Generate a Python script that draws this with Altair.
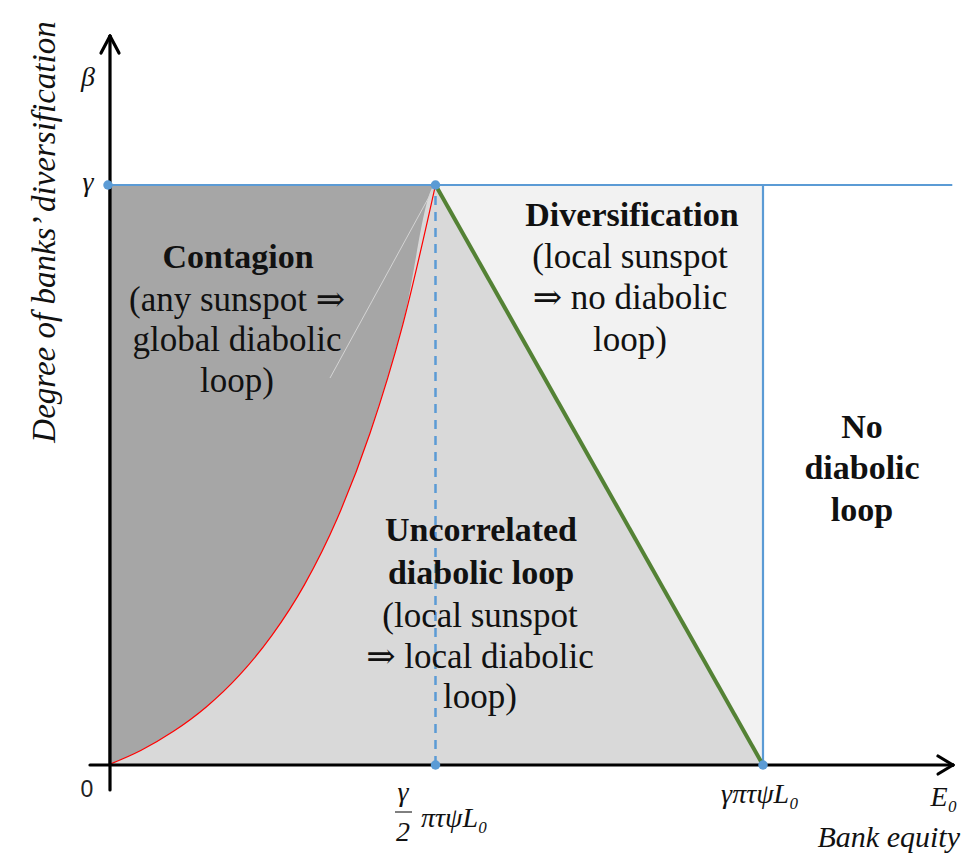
import altair as alt
import pandas as pd

# ---- data (x in units of gamma*pi*tau*psi*L0, y in units of gamma) ----
curve_x = [0, 0.05, 0.1, 0.15, 0.2, 0.25, 0.3, 0.35, 0.4, 0.45, 0.5]
curve_y = [0, 0.025, 0.058, 0.100, 0.154, 0.223, 0.311, 0.425, 0.572, 0.759, 1.0]
green_x = [0.5, 1.0]
green_y = [1.0, 0.0]
dots_x = [0, 0.5, 0.5, 1.0]
dots_y = [1.0, 1.0, 0.0, 0.0]
gamma_level = 1.0
top_line_end = 1.289

# pixel helpers for annotation placement
X0, XS = 108.0, 655.0
Y0, YS = 765.0, 580.0
def px(p):
    return (p - X0) / XS
def py(p):
    return (Y0 - p) / YS

W, H = 959, 846
xs = alt.Scale(domain=[px(8), px(8 + W)], nice=False, zero=False)
ys = alt.Scale(domain=[py(8 + H), py(8)], nice=False, zero=False)

def X(field="x"):
    return alt.X(field, type="quantitative", scale=xs, axis=None)
def Y(field="y"):
    return alt.Y(field, type="quantitative", scale=ys, axis=None)

BLUE = "#5b9bd5"

# areas
dark = pd.DataFrame({"x": curve_x, "y": curve_y, "y2": [gamma_level] * len(curve_x)})
light = pd.DataFrame({"x": curve_x + [green_x[1]], "y": [0.0] * (len(curve_x) + 1),
                      "y2": curve_y + [green_y[1]]})
vlight = pd.DataFrame({"x": green_x, "y": green_y, "y2": [gamma_level, gamma_level]})

a_dark = alt.Chart(dark).mark_area(color="#a6a6a6", opacity=1, interpolate="monotone").encode(
    x=X(), y=Y(), y2="y2")
a_light = alt.Chart(light).mark_area(color="#d9d9d9", opacity=1, interpolate="monotone").encode(
    x=X(), y=Y(), y2="y2")
a_vlight = alt.Chart(vlight).mark_area(color="#f2f2f2", opacity=1).encode(x=X(), y=Y(), y2="y2")

faint = alt.Chart(pd.DataFrame({"x": [0.5, px(330)], "y": [1.0, py(378)]})).mark_line(
    color="#d4d4d4", strokeWidth=1).encode(x=X(), y=Y())

red = alt.Chart(pd.DataFrame({"x": curve_x, "y": curve_y})).mark_line(
    color="#ff0000", strokeWidth=1.2, interpolate="monotone").encode(x=X(), y=Y())

segs = pd.DataFrame({
    "x": [0.0, 1.0],
    "y": [gamma_level, 0.0],
    "x2": [top_line_end, 1.0],
    "y2": [gamma_level, gamma_level],
})
blue_lines = alt.Chart(segs).mark_rule(color=BLUE, strokeWidth=2.2).encode(
    x=X(), y=Y(), x2="x2", y2="y2")

dashed = alt.Chart(pd.DataFrame({"x": [0.5], "y": [0.0], "y2": [gamma_level]})).mark_rule(
    color=BLUE, strokeWidth=2.5, strokeDash=[9, 7]).encode(x=X(), y=Y(), y2="y2")

green = alt.Chart(pd.DataFrame({"x": green_x, "y": green_y})).mark_line(
    color="#548235", strokeWidth=4).encode(x=X(), y=Y())

# axes with open arrowheads
axes = pd.DataFrame({
    "x": [px(110), px(90), px(110), px(110), px(953), px(953)],
    "y": [py(790), 0.0, py(36), py(36), 0.0, 0.0],
    "x2": [px(110), px(953), px(101), px(119), px(938), px(938)],
    "y2": [py(36), 0.0, py(53), py(53), py(756), py(774)],
})
ax = alt.Chart(axes).mark_rule(color="black", strokeWidth=3.2, strokeCap="round").encode(
    x=X(), y=Y(), x2="x2", y2="y2")

dots = alt.Chart(pd.DataFrame({"x": dots_x, "y": dots_y})).mark_circle(
    color=BLUE, size=90, opacity=1).encode(x=X(), y=Y())

frac = alt.Chart(pd.DataFrame({"x": [px(395)], "x2": [px(412)], "y": [py(812)]})).mark_rule(
    color="black", strokeWidth=1).encode(x=X(), x2="x2", y=Y())

SERIF = "'Liberation Serif', 'Times New Roman', 'DejaVu Serif', serif"

def texts(rows, **kw):
    df = pd.DataFrame(rows, columns=["x", "y", "t"])
    df["x"] = df["x"].map(px)
    df["y"] = df["y"].map(py)
    return alt.Chart(df).mark_text(**kw).encode(x=X(), y=Y(), text="t")

bold_labels = texts([
    (238, 258, "Contagion"),
    (632, 216, "Diversification"),
    (481, 531, "Uncorrelated"),
    (481, 574, "diabolic loop"),
    (862, 428, "No"),
    (862, 469, "diabolic"),
    (862, 511, "loop"),
], font=SERIF, fontSize=34, fontWeight="bold", baseline="middle", align="center", color="#111111")

norm_labels = texts([
    (237, 300, "(any sunspot ⇒"),
    (237, 340, "global diabolic"),
    (237, 381, "loop)"),
    (630, 257, "(local sunspot"),
    (630, 298, "⇒ no diabolic"),
    (630, 340, "loop)"),
    (480, 616, "(local sunspot"),
    (480, 657, "⇒ local diabolic"),
    (480, 697, "loop)"),
], font=SERIF, fontSize=35, baseline="middle", align="center", color="#111111")

math_labels = texts([
    (88, 78, "β"),
    (88, 183, "γ"),
    (403, 793, "γ"),
    (403, 833, "2"),
    (760, 795, "γπτψL₀"),
    (944, 798, "E₀"),
], font=SERIF, fontSize=28, fontStyle="italic", baseline="middle", align="center", color="#111111")

math_left = texts([
    (421, 819, "πτψL₀"),
], font=SERIF, fontSize=28, fontStyle="italic", baseline="middle", align="left", color="#111111")

zero = texts([(87, 790, "0")], font="Liberation Sans", fontSize=23, baseline="middle",
             align="center", color="#222222")

bank = texts([(960, 838, "Bank equity")], font=SERIF, fontSize=30, fontStyle="italic",
             baseline="middle", align="right", color="#111111")

ytitle = texts([(45, 232, "Degree of banks’ diversification")], font=SERIF, fontSize=33,
               fontStyle="italic", baseline="middle", align="center", angle=270, color="#111111")

chart = alt.layer(
    a_dark, a_light, a_vlight, faint, red, blue_lines, dashed, green, ax, dots, frac,
    bold_labels, norm_labels, math_labels, math_left, zero, bank, ytitle,
).properties(width=W, height=H, padding=0, autosize="none").configure_view(stroke=None)

chart.save("out.html", embed_options={"renderer": "svg", "actions": False})
